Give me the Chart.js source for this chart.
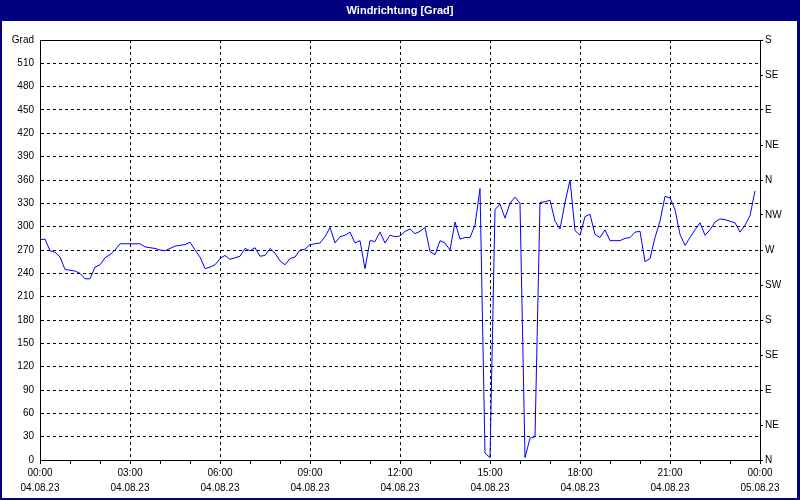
<!DOCTYPE html>
<html>
<head>
<meta charset="utf-8">
<title>Windrichtung [Grad]</title>
<script src="https://cdn.jsdelivr.net/npm/chart.js@4.4.1/dist/chart.umd.min.js"></script>
<style>
  html, body { margin: 0; padding: 0; background: #fff; }
  canvas { display: block; }
</style>
</head>
<body>
<canvas id="chartWind" width="800" height="500"></canvas>
<script>
// Windrichtung, ein Wert alle 10 Minuten (00:00 - 23:50)
const sampleStep = 10; // Minuten
const windDir = [
  283, 284, 269, 267, 261, 245, 244, 243, 240, 233,
  233, 248, 251, 260, 264, 270, 278, 278, 278, 278,
  278, 274, 273, 272, 270, 269, 272, 275, 276, 277,
  280, 270, 261, 246, 248, 251, 259, 263, 258, 260,
  262, 272, 269, 273, 262, 263, 272, 266, 256, 251,
  259, 261, 270, 271, 277, 278, 279, 287, 299, 279,
  287, 289, 293, 279, 282, 246, 282, 281, 293, 279,
  289, 287, 288, 294, 297, 291, 294, 299, 268, 264,
  282, 279, 270, 306, 284, 286, 286, 302, 349, 9,
  3, 322, 329, 311, 330, 338, 330, 3, 28, 30,
  331, 332, 334, 307, 297, 331, 360, 295, 289, 313,
  316, 290, 286, 296, 282, 282, 282, 285, 286, 293,
  294, 255, 259, 286, 307, 339, 337, 322, 290, 276,
  286, 296, 305, 289, 296, 306, 310, 309, 307, 305,
  293, 302, 314, 346
];
const minutes = windDir.map((_, i) => i * sampleStep);

// Achsenbeschriftungen
const tickTimes = ['00:00', '03:00', '06:00', '09:00', '12:00', '15:00', '18:00', '21:00', '00:00'];
const tickDates = ['04.08.23', '04.08.23', '04.08.23', '04.08.23', '04.08.23', '04.08.23', '04.08.23', '04.08.23', '05.08.23'];
const compass = ['N', 'NE', 'E', 'SE', 'S', 'SW', 'W', 'NW', 'N', 'NE', 'E', 'SE', 'S'];

Chart.defaults.font.family = "'Liberation Sans', Arial, sans-serif";
Chart.defaults.font.size = 10;
Chart.defaults.color = '#000';

// Fensterrahmen, Titelleiste und Rahmen um die Zeichenfläche
const frame = {
  id: 'frame',
  beforeDraw(chart) {
    const c = chart.ctx;
    c.save();
    c.fillStyle = '#fff';
    c.fillRect(0, 0, chart.width, chart.height);
    c.restore();
  },
  afterDraw(chart) {
    const c = chart.ctx;
    const a = chart.chartArea;
    c.save();
    c.strokeStyle = '#000';
    c.lineWidth = 1;
    c.setLineDash([]);
    c.strokeRect(Math.round(a.left) + 0.5, Math.round(a.top) + 0.5,
      Math.round(a.right - a.left), Math.round(a.bottom - a.top));
    c.fillStyle = '#000080';
    c.fillRect(0, 0, chart.width, 21);
    c.fillRect(0, 0, 2, chart.height);
    c.fillRect(chart.width - 3, 0, 3, chart.height);
    c.fillRect(0, chart.height - 2, chart.width, 2);
    c.fillStyle = '#fff';
    c.font = "bold 11px 'Liberation Sans', Arial, sans-serif";
    c.textAlign = 'center';
    c.textBaseline = 'middle';
    c.fillText('Windrichtung [Grad]', chart.width / 2, 11);
    c.restore();
  }
};

const ctxWind = document.getElementById('chartWind').getContext('2d');
new Chart(ctxWind, {
  type: 'line',
  data: {
    labels: minutes,
    datasets: [{
      label: 'Windrichtung',
      data: windDir.map((v, i) => ({ x: minutes[i], y: v })),
      borderColor: '#0000ff',
      borderWidth: 1,
      pointRadius: 0,
      tension: 0,
      fill: false,
      yAxisID: 'y'
    }]
  },
  options: {
    responsive: false,
    animation: false,
    layout: { padding: { top: 40, left: 0, right: 0, bottom: 0 } },
    plugins: {
      legend: { display: false },
      tooltip: { enabled: false }
    },
    scales: {
      x: {
        type: 'linear',
        min: 0,
        max: 1440,
        afterBuildTicks: (s) => {
          s.ticks = [];
          for (let m = 0; m <= 1440; m += 60) s.ticks.push({ value: m });
        },
        afterFit: (s) => { s.height = 40; },
        border: { display: true, color: '#000', dash: [3, 3] },
        grid: {
          color: (c) => {
            const v = c.tick && c.tick.value;
            return v % 180 === 0 && v > 0 && v < 1440 ? '#000' : 'rgba(0,0,0,0)';
          },
          tickColor: '#000',
          tickBorderDash: [],
          tickLength: 4,
          lineWidth: 1
        },
        ticks: {
          autoSkip: false,
          maxRotation: 0,
          padding: 2,
          font: { lineHeight: 1.5 },
          callback: (v) => v % 180 === 0 ? [tickTimes[v / 180], tickDates[v / 180]] : ''
        }
      },
      y: {
        position: 'left',
        min: 0,
        max: 540,
        afterBuildTicks: (s) => {
          s.ticks = [];
          for (let v = 0; v <= 540; v += 30) s.ticks.push({ value: v });
        },
        afterFit: (s) => { s.width = 40; },
        border: { display: true, color: '#000', dash: [3, 3] },
        grid: {
          color: (c) => {
            const v = c.tick && c.tick.value;
            return v > 0 && v < 540 ? '#000' : 'rgba(0,0,0,0)';
          },
          drawTicks: false,
          lineWidth: 1
        },
        ticks: {
          padding: 6,
          callback: (v) => v === 540 ? 'Grad' : v
        }
      },
      y2: {
        position: 'right',
        min: 0,
        max: 540,
        afterBuildTicks: (s) => {
          s.ticks = [];
          for (let v = 0; v <= 540; v += 45) s.ticks.push({ value: v });
        },
        afterFit: (s) => { s.width = 40; },
        border: { display: true, color: '#000' },
        grid: {
          drawOnChartArea: false,
          tickColor: '#000',
          tickBorderDash: [],
          tickLength: 3
        },
        ticks: {
          padding: 2,
          callback: (v) => compass[v / 45]
        }
      }
    }
  },
  plugins: [frame]
});
</script>
</body>
</html>
